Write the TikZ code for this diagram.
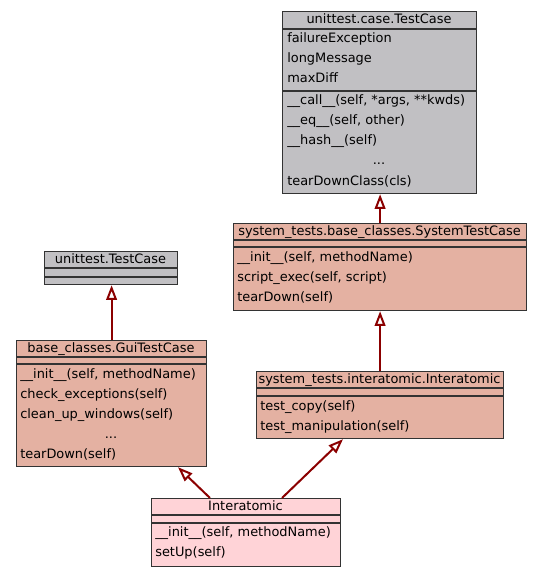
\documentclass[tikz,border=0pt]{standalone}
\usepackage{fontspec}
\setmainfont{DejaVu Sans}
\usetikzlibrary{arrows.meta,calc}
\definecolor{graycol}{HTML}{C1C0C3}
\definecolor{salmoncol}{HTML}{E4B1A2}
\definecolor{pinkcol}{HTML}{FFD3D7}
\definecolor{bordercol}{HTML}{333333}
\definecolor{edgecol}{HTML}{8B0000}
\newcommand\umlfnt{\fontsize{9.7}{11}\selectfont}
\tikzset{
  cls/.style={draw=bordercol, line width=0.9pt, rectangle, inner sep=0pt, anchor=north west},
  mem/.style={anchor=west, inner sep=0pt, text height=7.6pt, text depth=2pt, font=\umlfnt},
  hdr/.style={mem, anchor=center},
  sep/.style={draw=bordercol, line width=0.9pt},
  inh/.style={draw=edgecol, line width=1.5pt, -{Triangle[open, length=11pt, width=8pt]}}
}
\begin{document}
\begin{tikzpicture}[x=0.75pt,y=-0.75pt]
\useasboundingbox[fill=white] (0,0) rectangle (541,576);
% A: unittest.case.TestCase
\node[cls, fill=graycol, minimum width=194*0.75pt, minimum height=182*0.75pt] (A) at (282,11) {};
\draw[sep] (282,29) -- (476,29);
\draw[sep] (282,91) -- (476,91);
\node[hdr] (Ah) at (379,20) {unittest.case.TestCase};
\node[mem] (A1) at (287,39) {failureException};
\node[mem] (A2) at (287,59) {longMessage};
\node[mem] (A3) at (287,79) {maxDiff};
\node[mem] (A4) at (287,101) {\_\_call\_\_(self, *args, **kwds)};
\node[mem] (A5) at (287,121) {\_\_eq\_\_(self, other)};
\node[mem] (A6) at (287,141) {\_\_hash\_\_(self)};
\node[hdr] (A7) at (379,161) {...};
\node[mem] (A8) at (287,182) {tearDownClass(cls)};
% B: SystemTestCase
\node[cls, fill=salmoncol, minimum width=293*0.75pt, minimum height=87*0.75pt] (B) at (233,223) {};
\draw[sep] (233,240) -- (526,240);
\draw[sep] (233,247) -- (526,247);
\node[hdr] (Bh) at (379.5,231.5) {system\_tests.base\_classes.SystemTestCase};
\node[mem] (B1) at (237,258) {\_\_init\_\_(self, methodName)};
\node[mem] (B2) at (237,278) {script\_exec(self, script)};
\node[mem] (B3) at (237,298) {tearDown(self)};
% C: unittest.TestCase
\node[cls, fill=graycol, minimum width=133*0.75pt, minimum height=33*0.75pt] (C) at (44,251) {};
\draw[sep] (44,268) -- (177,268);
\draw[sep] (44,277) -- (177,277);
\node[hdr] (Ch) at (110.5,259.5) {unittest.TestCase};
% D: GuiTestCase
\node[cls, fill=salmoncol, minimum width=190*0.75pt, minimum height=126*0.75pt] (D) at (16,340) {};
\draw[sep] (16,357) -- (206,357);
\draw[sep] (16,364) -- (206,364);
\node[hdr] (Dh) at (111,348.5) {base\_classes.GuiTestCase};
\node[mem] (D1) at (20,375) {\_\_init\_\_(self, methodName)};
\node[mem] (D2) at (20,395) {check\_exceptions(self)};
\node[mem] (D3) at (20,415) {clean\_up\_windows(self)};
\node[hdr] (D4) at (111,435) {...};
\node[mem] (D5) at (20,455) {tearDown(self)};
% E: system_tests.interatomic.Interatomic
\node[cls, fill=salmoncol, minimum width=247*0.75pt, minimum height=67*0.75pt] (E) at (256,371) {};
\draw[sep] (256,388) -- (503,388);
\draw[sep] (256,396) -- (503,396);
\node[hdr] (Eh) at (379.5,379.5) {system\_tests.interatomic.Interatomic};
\node[mem] (E1) at (260,407) {test\_copy(self)};
\node[mem] (E2) at (260,427) {test\_manipulation(self)};
% F: Interatomic
\node[cls, fill=pinkcol, minimum width=189*0.75pt, minimum height=68*0.75pt] (F) at (151,498) {};
\draw[sep] (151,515) -- (340,515);
\draw[sep] (151,523) -- (340,523);
\node[hdr] (Fh) at (245.5,506.5) {Interatomic};
\node[mem] (F1) at (155,533) {\_\_init\_\_(self, methodName)};
\node[mem] (F2) at (155,553) {setUp(self)};
% inheritance connectors
\draw[inh] (B.north) -- (B.north |- A.south);
\draw[inh] (E.north) -- (E.north |- B.south);
\draw[inh] (D.north) -- (D.north |- C.south);
\draw[inh] ($(F.north west)+(59,0)$) -- ($(D.south west)+(162,0)$);
\draw[inh] ($(F.north west)+(131,0)$) -- ($(E.south west)+(87,0)$);
\end{tikzpicture}
\end{document}
